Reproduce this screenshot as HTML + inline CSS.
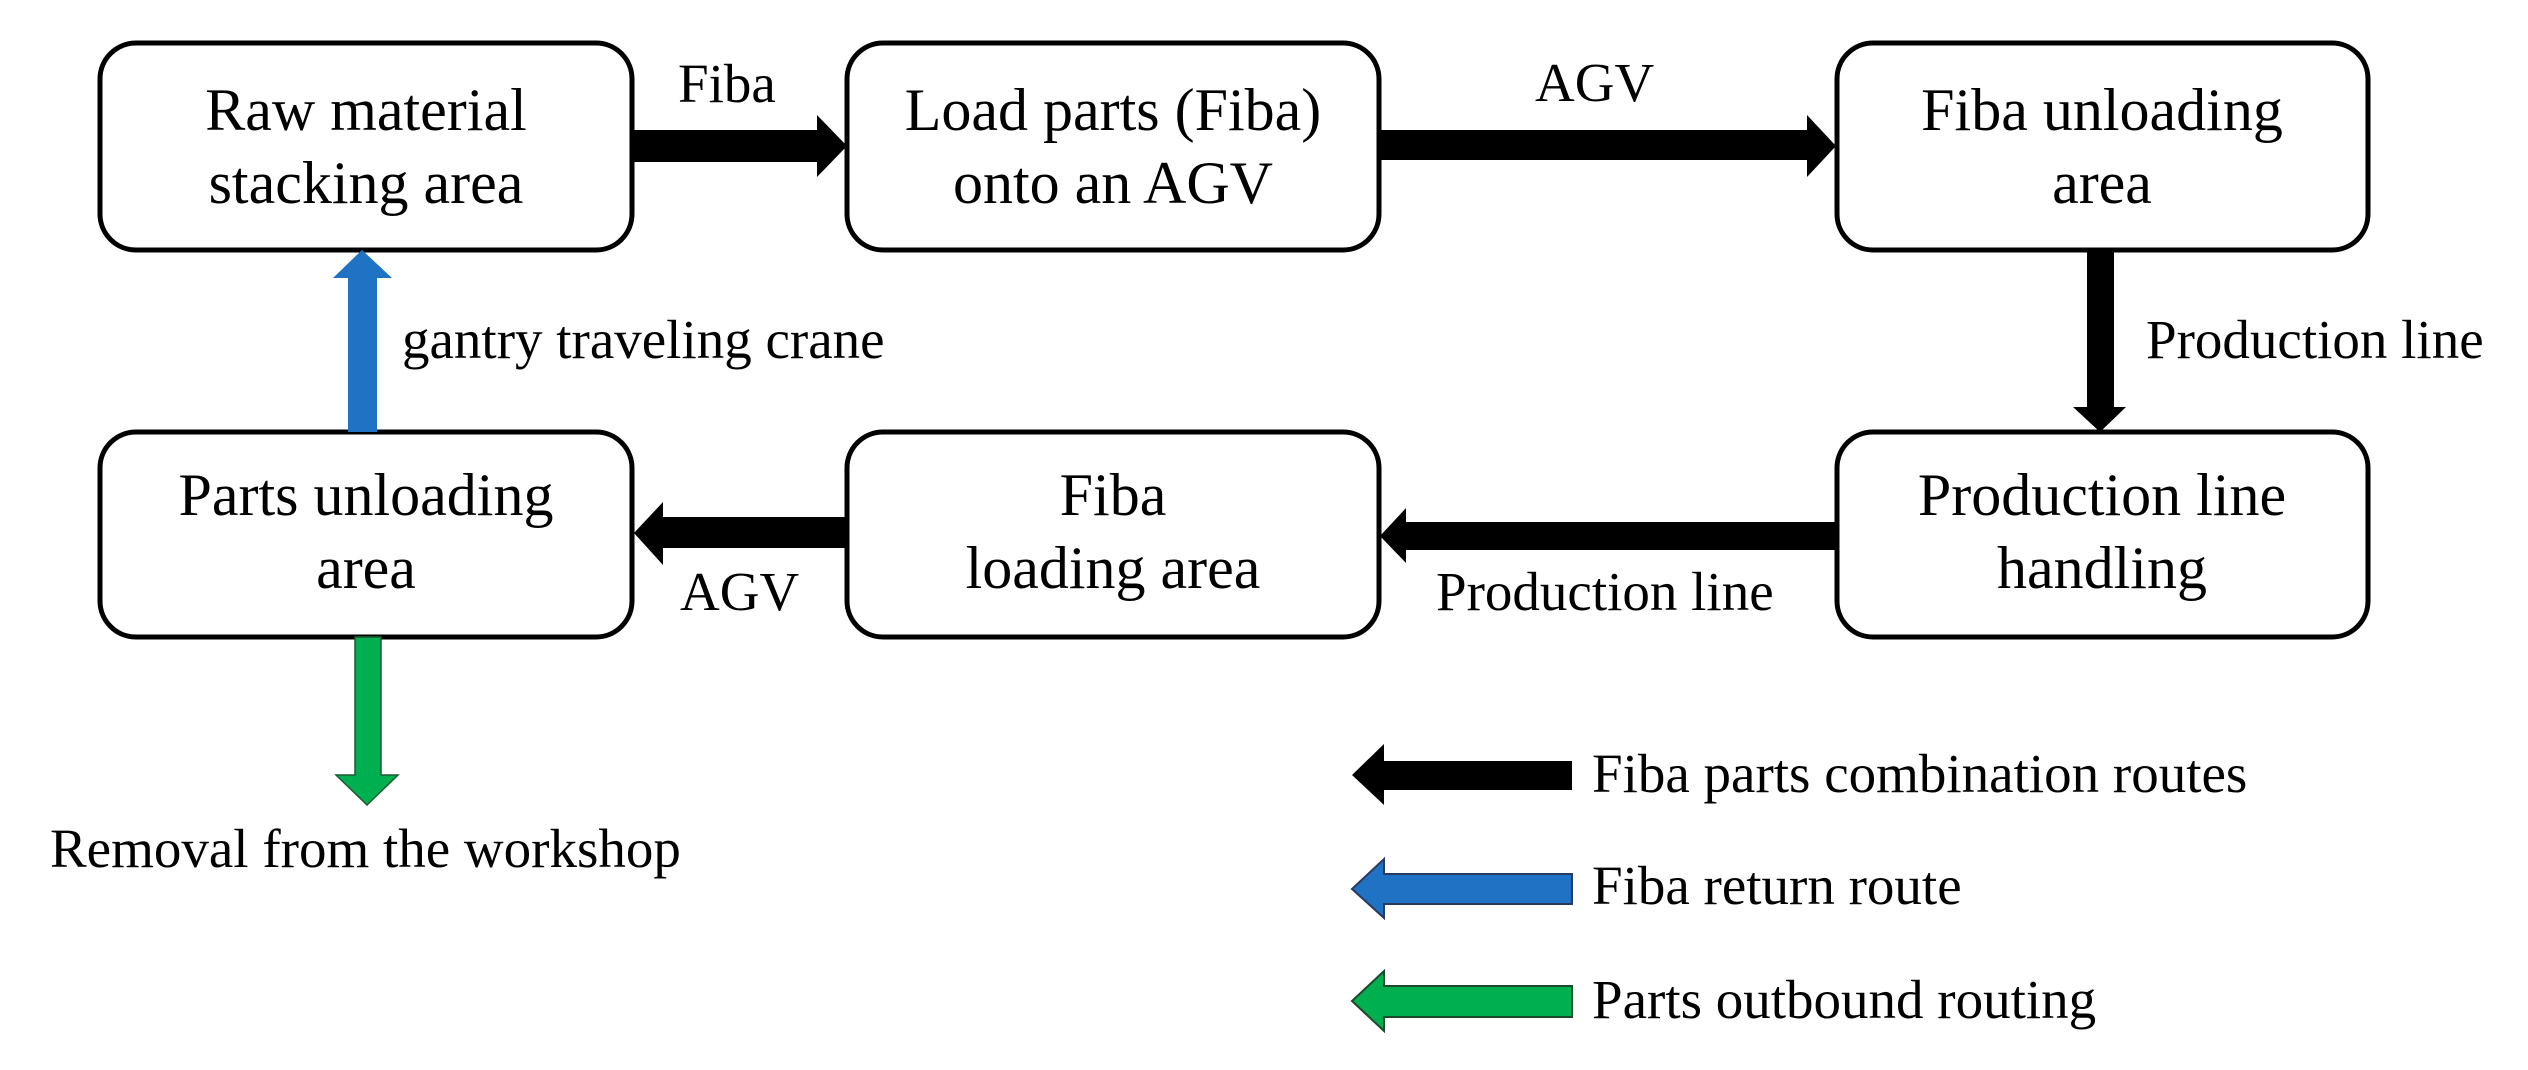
<!DOCTYPE html>
<html><head><meta charset="utf-8"><style>
html,body{margin:0;padding:0;background:#fff;}
svg{display:block;}
svg text{font-family:"Liberation Serif","Times New Roman",Times,"DejaVu Serif",serif !important;fill:#000;}
.b{font-size:60px;text-anchor:middle;}
.l{font-size:55px;}
</style></head><body>
<svg width="2528" height="1070" viewBox="0 0 2528 1070" xmlns="http://www.w3.org/2000/svg" font-family="Liberation Serif, Times New Roman, serif">
<g fill="#fff" stroke="#000" stroke-width="5">
<rect x="100" y="43" width="532" height="207" rx="36"/>
<rect x="847" y="43" width="532" height="207" rx="36"/>
<rect x="1837" y="43" width="531" height="207" rx="36"/>
<rect x="100" y="432" width="532" height="205" rx="36"/>
<rect x="847" y="432" width="532" height="205" rx="36"/>
<rect x="1837" y="432" width="531" height="205" rx="36"/>
</g>
<text class="b" x="366" y="130">Raw material</text>
<text class="b" x="366" y="203">stacking area</text>
<text class="b" x="1113" y="130">Load parts (Fiba)</text>
<text class="b" x="1113" y="203">onto an AGV</text>
<text class="b" x="2102" y="130">Fiba unloading</text>
<text class="b" x="2102" y="203">area</text>
<text class="b" x="366" y="515">Parts unloading</text>
<text class="b" x="366" y="588">area</text>
<text class="b" x="1113" y="515">Fiba</text>
<text class="b" x="1113" y="588">loading area</text>
<text class="b" x="2102" y="515">Production line</text>
<text class="b" x="2102" y="588">handling</text>
<g fill="#000">
<polygon points="632,130 817,130 817,115 847,146 817,177 817,162 632,162"/>
<polygon points="1379,130 1807,130 1807,115 1836,146 1807,177 1807,160 1379,160"/>
<polygon points="2087,250 2114,250 2114,407 2126,407 2100,432 2073,407 2087,407"/>
<polygon points="1837,522 1406,522 1406,508 1380,536 1406,563 1406,550 1837,550"/>
<polygon points="847,517 663,517 663,502 634,533 663,565 663,548 847,548"/>
<polygon points="1572,761 1384,761 1384,744 1352,775 1384,805 1384,790 1572,790"/>
</g>
<polygon points="348,432 348,278 333,278 362,250 392,278 377,278 377,432" fill="#1f72c4"/>
<polygon points="355,637 355,775 336,775 367,805 398,775 381,775 381,637" fill="#00b050" stroke="#1a5a30" stroke-width="1.5"/>
<polygon points="1572,874 1384,874 1384,859 1352,889 1384,918 1384,904 1572,904" fill="#1f72c4" stroke="#2a3a60" stroke-width="2"/>
<polygon points="1572,986 1384,986 1384,971 1352,1001 1384,1031 1384,1017 1572,1017" fill="#00b050" stroke="#1a4a2a" stroke-width="2"/>
<text class="l" x="678" y="102">Fiba</text>
<text class="l" x="1535" y="101">AGV</text>
<text class="l" x="2146" y="358">Production line</text>
<text class="l" x="1436" y="610">Production line</text>
<text class="l" x="680" y="610">AGV</text>
<text class="l" x="402" y="358">gantry traveling crane</text>
<text class="l" x="50" y="867">Removal from the workshop</text>
<text class="l" x="1592" y="792">Fiba parts combination routes</text>
<text class="l" x="1592" y="904">Fiba return route</text>
<text class="l" x="1592" y="1018">Parts outbound routing</text>
</svg>
</body></html>
